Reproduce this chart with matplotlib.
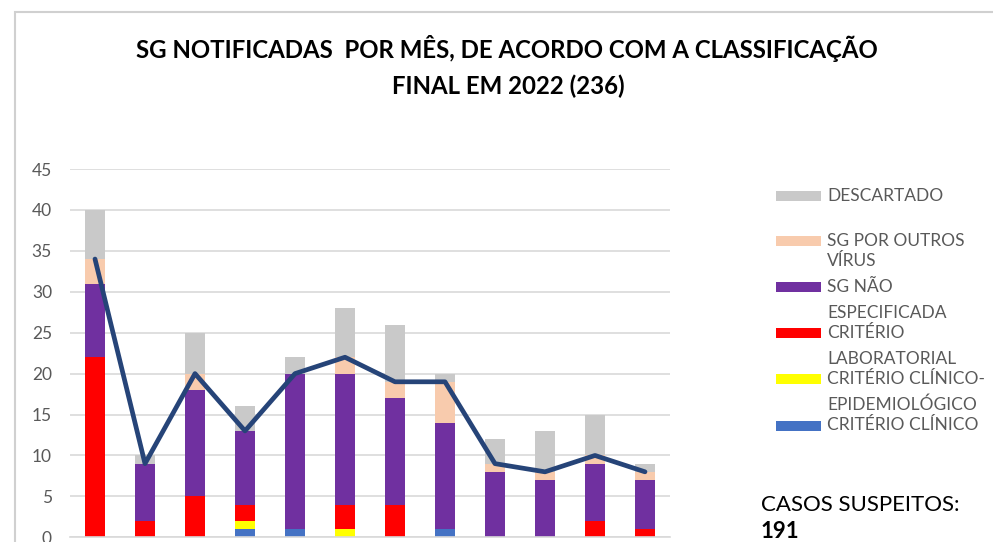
import matplotlib
matplotlib.use("Agg")
import matplotlib.pyplot as plt
from matplotlib.patches import Rectangle
import numpy as np

months = ["JAN", "FEV", "MAR", "ABR", "MAI", "JUN", "JUL", "AGO", "SET", "OUT", "NOV", "DEZ"]
clinico = [0, 0, 0, 1, 1, 0, 0, 1, 0, 0, 0, 0]
clinico_epid = [0, 0, 0, 1, 0, 1, 0, 0, 0, 0, 0, 0]
laboratorial = [22, 2, 5, 2, 0, 3, 4, 0, 0, 0, 2, 1]
sg_nao_espec = [9, 7, 13, 9, 19, 16, 13, 13, 8, 7, 7, 6]
sg_outros = [3, 0, 2, 0, 0, 2, 2, 5, 1, 1, 1, 1]
descartado = [6, 1, 5, 3, 2, 6, 7, 1, 3, 5, 5, 1]
casos_suspeitos = [34, 9, 20, 13, 20, 22, 19, 19, 9, 8, 10, 8]
yticks = [0, 5, 10, 15, 20, 25, 30, 35, 40, 45]

series = [
    (clinico, "#4472C4", "CRITÉRIO CLÍNICO"),
    (clinico_epid, "#FFFF00", "CRITÉRIO CLÍNICO-\nEPIDEMIOLÓGICO"),
    (laboratorial, "#FF0000", "CRITÉRIO\nLABORATORIAL"),
    (sg_nao_espec, "#7030A0", "SG NÃO\nESPECIFICADA"),
    (sg_outros, "#F8CBAD", "SG POR OUTROS\nVÍRUS"),
    (descartado, "#C9C9C9", "DESCARTADO"),
]

W, H = 993, 542
fig = plt.figure(figsize=(W / 100, H / 100), dpi=100)
fig.patch.set_facecolor("white")

def fx(px):
    return px / W

def fy(py):
    return 1 - py / H

# frame
fig.add_artist(Rectangle((fx(15), fy(560)), fx(1100), fy(12) - fy(560), transform=fig.transFigure,
                         fill=False, edgecolor="#D0D0D0", linewidth=1.5))

ax = fig.add_axes([fx(70), fy(537.3), fx(600), fy(169) - fy(537.3)])
x = np.arange(len(months))
bottom = np.zeros(len(months))
for vals, color, label in series:
    v = np.array(vals, dtype=float)
    ax.bar(x, v, bottom=bottom, width=0.4, color=color, zorder=2)
    bottom += v
ax.plot(x, casos_suspeitos, color="#264478", linewidth=3.4, zorder=3, solid_capstyle="round")

ax.set_xlim(-0.5, len(months) - 0.5)
ax.set_ylim(0, 45)
ax.set_yticks(yticks)
ax.set_yticklabels([str(t) for t in yticks], fontsize=12.5, color="#595959", family="Lato")
ax.tick_params(axis="y", length=0, pad=13)
ax.set_xticks([])
for s in ["top", "right", "left"]:
    ax.spines[s].set_visible(False)
ax.spines["bottom"].set_color("#D9D9D9")
ax.spines["bottom"].set_linewidth(1.2)
ax.grid(axis="y", color="#D9D9D9", linewidth=1.2, zorder=0)
ax.set_axisbelow(True)

# title
fig.text(fx(507), fy(49), "SG NOTIFICADAS  POR MÊS, DE ACORDO COM A CLASSIFICAÇÃO",
         ha="center", va="center", fontsize=17.3, fontweight="bold", family="Lato", color="#000000")
fig.text(fx(508), fy(86), "FINAL EM 2022 (236)",
         ha="center", va="center", fontsize=17.3, fontweight="bold", family="Lato", color="#000000")

# legend (manual, reproducing wrapped layout)
leg_items = [
    ("#C9C9C9", 195.5, ["DESCARTADO"], 0),
    ("#F8CBAD", 241, ["SG POR OUTROS", "VÍRUS"], 20),
    ("#7030A0", 287, ["SG NÃO", "ESPECIFICADA"], 26),
    ("#FF0000", 333, ["CRITÉRIO", "LABORATORIAL"], 26),
    ("#FFFF00", 379, ["CRITÉRIO CLÍNICO-", "EPIDEMIOLÓGICO"], 26),
    ("#4472C4", 425.5, ["CRITÉRIO CLÍNICO"], 0),
]
for color, yc, lines, gap in leg_items:
    fig.add_artist(Rectangle((fx(776), fy(yc + 5)), fx(45), fy(yc - 5) - fy(yc + 5),
                             transform=fig.transFigure, facecolor=color, edgecolor="none"))
    for i, t in enumerate(lines):
        fig.text(fx(827), fy(yc + i * gap), t, ha="left", va="center", fontsize=12.5,
                 color="#595959", family="Lato")

fig.text(fx(761), fy(505), "CASOS SUSPEITOS:", ha="left", va="center", fontsize=16,
         color="#000000", family="Lato")
fig.text(fx(761), fy(531), "191", ha="left", va="center", fontsize=16, fontweight="bold",
         color="#000000", family="Lato")

fig.savefig("out.png", dpi=100, facecolor="white")
